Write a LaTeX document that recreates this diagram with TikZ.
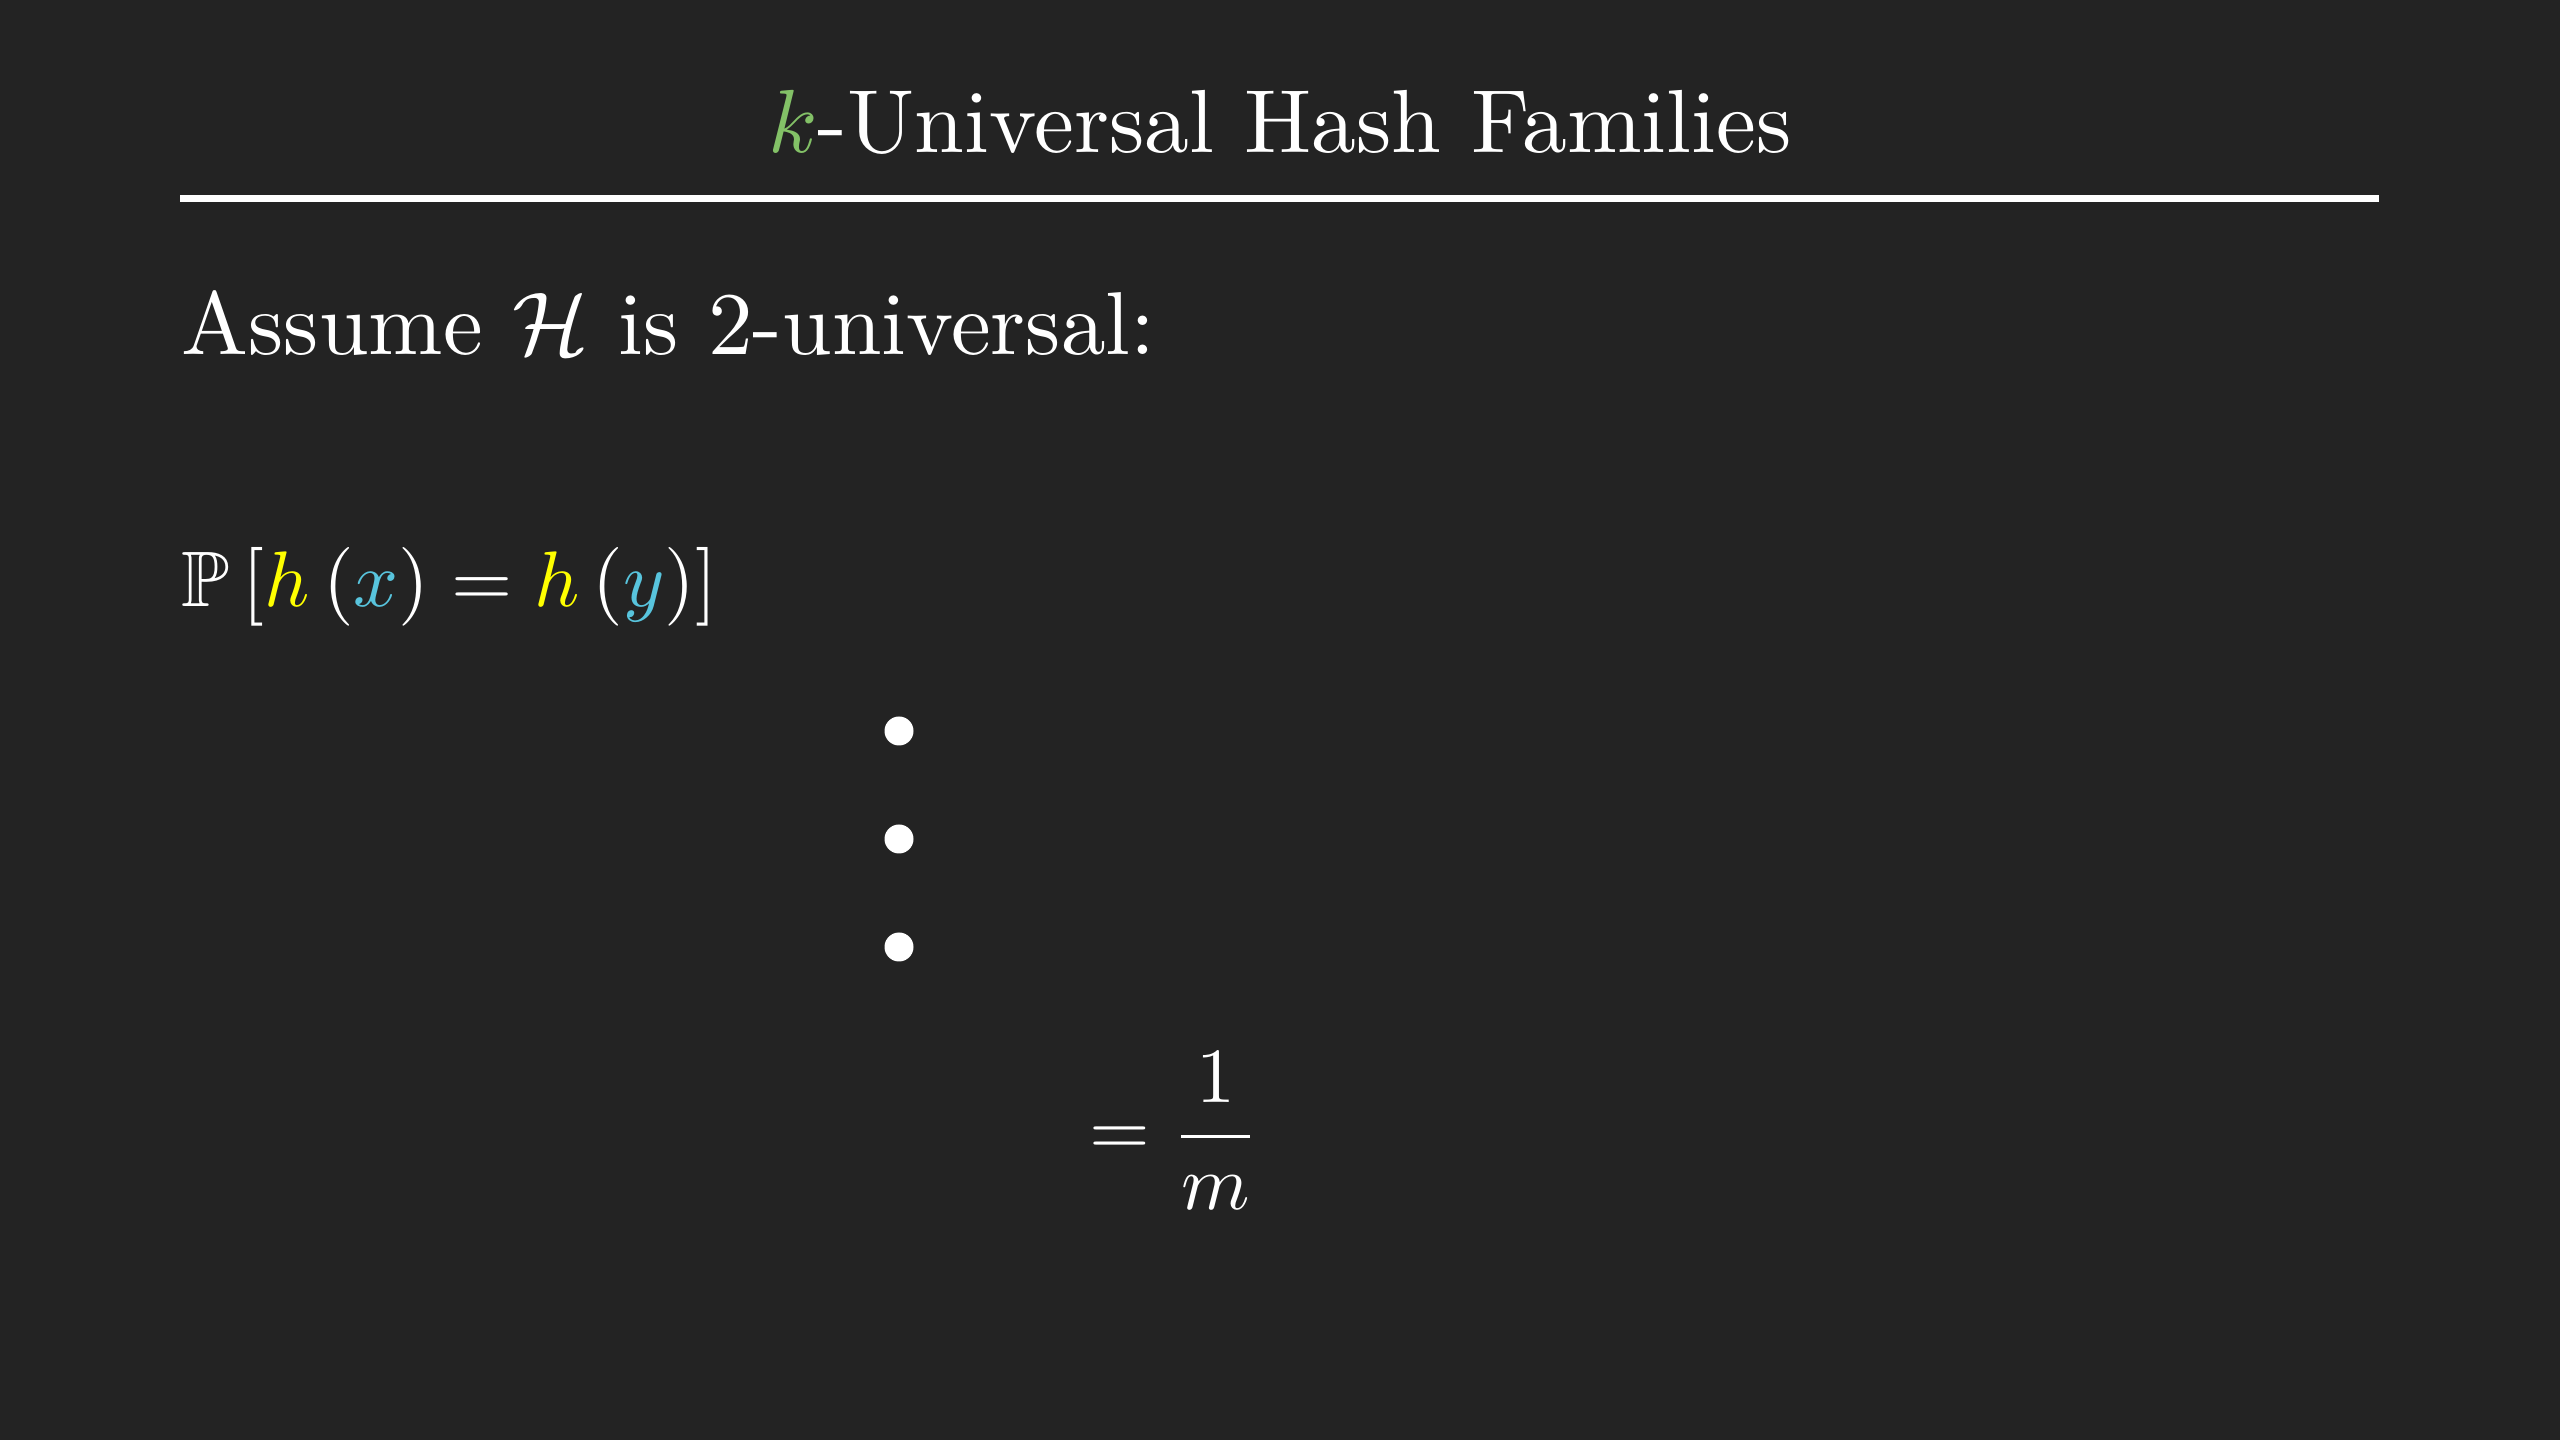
\documentclass[tikz,border=0pt]{standalone}
\usepackage{amsmath,amssymb}
\definecolor{bgdark}{HTML}{232323}
\definecolor{kgreen}{HTML}{83C167}
\definecolor{hyellow}{HTML}{FFFF00}
\definecolor{argblue}{HTML}{58C4DD}
\begin{document}
\begin{tikzpicture}
\fill[bgdark] (0,0) rectangle (25.6,14.4);
\useasboundingbox (0,0) rectangle (25.6,14.4);
\node[text=white, inner sep=0, anchor=base, scale=2.55, transform shape] (title) at (12.8,12.87)
  {$\color{kgreen}k$-Universal Hash Families};
\coordinate (ruleL) at (1.8,12.415);
\coordinate (ruleR) at (23.79,12.415);
\draw[white, line width=0.07cm] (ruleL) -- (ruleR);
\node[text=white, inner sep=0, anchor=base west, scale=2.54, transform shape] (assume) at (1.8,10.85)
  {Assume $\mathcal{H}$ is 2-universal:};
\node[text=white, inner sep=0, anchor=base west, scale=2.24, transform shape] (prob) at (1.8,8.33)
  {$\mathbb{P}\left[{\color{hyellow}h}\left({\color{argblue}x}\right)={\color{hyellow}h}\left({\color{argblue}y}\right)\right]$};
\foreach \i/\y in {1/7.09,2/6.01,3/4.93}
  \node[circle, fill=white, inner sep=0, minimum size=0.29cm] (dot\i) at (8.99,\y) {};
\node[text=white, inner sep=0, anchor=west, scale=2.22, transform shape] (result) at (10.88,3.09)
  {$=\dfrac{1}{m}$};
\end{tikzpicture}
\end{document}
